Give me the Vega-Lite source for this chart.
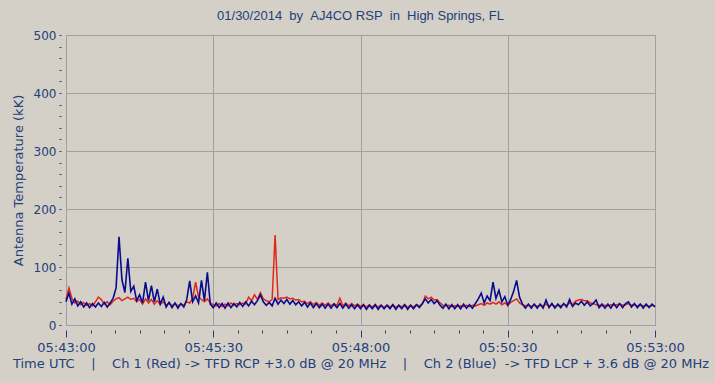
{
  "$schema": "https://vega.github.io/schema/vega-lite/v6.json",
  "width": 589,
  "height": 290,
  "autosize": {"type": "none"},
  "padding": {"left": 66, "top": 35, "right": 60, "bottom": 58},
  "background": "#D4D0C8",
  "title": {
    "text": "01/30/2014\u00a0\u00a0by\u00a0\u00a0AJ4CO RSP\u00a0\u00a0in\u00a0\u00a0High Springs, FL",
    "font": "Liberation Sans",
    "fontSize": 13,
    "fontWeight": "normal",
    "color": "#23407A",
    "anchor": "middle",
    "offset": 6
  },
  "config": {
    "view": {"stroke": "#808080", "fill": "#D4D0C8"},
    "font": "DejaVu Sans"
  },
  "data": {
    "values": [
      {"t":0,"b":40,"r":44},{"t":3,"b":55,"r":64},{"t":6,"b":36,"r":46},{"t":9,"b":45,"r":38},{"t":12,"b":33,"r":41},
      {"t":15,"b":40,"r":35},{"t":18,"b":31,"r":39},{"t":21,"b":38,"r":34},{"t":24,"b":30,"r":37},{"t":27,"b":37,"r":33},
      {"t":30,"b":31,"r":40},{"t":33,"b":38,"r":48},{"t":36,"b":32,"r":44},{"t":39,"b":39,"r":36},{"t":42,"b":31,"r":40},
      {"t":45,"b":38,"r":35},{"t":48,"b":46,"r":41},{"t":51,"b":64,"r":45},{"t":54,"b":152,"r":47},{"t":57,"b":78,"r":42},
      {"t":60,"b":56,"r":45},{"t":63,"b":115,"r":48},{"t":66,"b":58,"r":44},{"t":69,"b":67,"r":46},{"t":72,"b":42,"r":40},
      {"t":75,"b":52,"r":44},{"t":78,"b":38,"r":36},{"t":81,"b":74,"r":45},{"t":84,"b":42,"r":38},{"t":87,"b":68,"r":44},
      {"t":90,"b":40,"r":36},{"t":93,"b":62,"r":42},{"t":96,"b":36,"r":35},{"t":99,"b":48,"r":40},{"t":102,"b":31,"r":34},
      {"t":105,"b":39,"r":38},{"t":108,"b":30,"r":33},{"t":111,"b":38,"r":37},{"t":114,"b":29,"r":33},{"t":117,"b":37,"r":36},
      {"t":120,"b":31,"r":34},{"t":123,"b":44,"r":40},{"t":126,"b":76,"r":38},{"t":129,"b":40,"r":46},{"t":132,"b":50,"r":74},
      {"t":135,"b":38,"r":48},{"t":138,"b":77,"r":44},{"t":141,"b":42,"r":40},{"t":144,"b":91,"r":45},{"t":147,"b":36,"r":38},
      {"t":150,"b":30,"r":35},{"t":153,"b":38,"r":33},{"t":156,"b":30,"r":37},{"t":159,"b":37,"r":32},{"t":162,"b":29,"r":36},
      {"t":165,"b":38,"r":33},{"t":168,"b":30,"r":38},{"t":171,"b":37,"r":34},{"t":174,"b":31,"r":37},{"t":177,"b":39,"r":35},
      {"t":180,"b":32,"r":38},{"t":183,"b":40,"r":36},{"t":186,"b":33,"r":48},{"t":189,"b":41,"r":42},{"t":192,"b":35,"r":52},
      {"t":195,"b":42,"r":44},{"t":198,"b":52,"r":56},{"t":201,"b":40,"r":45},{"t":204,"b":34,"r":42},{"t":207,"b":39,"r":40},
      {"t":210,"b":33,"r":44},{"t":213,"b":46,"r":155},{"t":216,"b":36,"r":44},{"t":219,"b":43,"r":47},{"t":222,"b":37,"r":46},
      {"t":225,"b":44,"r":48},{"t":228,"b":36,"r":45},{"t":231,"b":42,"r":46},{"t":234,"b":35,"r":43},{"t":237,"b":40,"r":44},
      {"t":240,"b":33,"r":40},{"t":243,"b":39,"r":41},{"t":246,"b":31,"r":37},{"t":249,"b":38,"r":40},{"t":252,"b":30,"r":35},
      {"t":255,"b":37,"r":39},{"t":258,"b":30,"r":34},{"t":261,"b":36,"r":38},{"t":264,"b":29,"r":34},{"t":267,"b":36,"r":38},
      {"t":270,"b":29,"r":33},{"t":273,"b":36,"r":37},{"t":276,"b":30,"r":34},{"t":279,"b":37,"r":46},{"t":282,"b":29,"r":33},
      {"t":285,"b":36,"r":38},{"t":288,"b":29,"r":33},{"t":291,"b":35,"r":37},{"t":294,"b":28,"r":33},{"t":297,"b":35,"r":36},
      {"t":300,"b":28,"r":32},{"t":303,"b":35,"r":35},{"t":306,"b":27,"r":31},{"t":309,"b":34,"r":35},{"t":312,"b":28,"r":31},
      {"t":315,"b":35,"r":35},{"t":318,"b":27,"r":31},{"t":321,"b":34,"r":34},{"t":324,"b":28,"r":30},{"t":327,"b":34,"r":34},
      {"t":330,"b":28,"r":31},{"t":333,"b":35,"r":35},{"t":336,"b":27,"r":30},{"t":339,"b":34,"r":34},{"t":342,"b":28,"r":31},
      {"t":345,"b":35,"r":35},{"t":348,"b":27,"r":30},{"t":351,"b":34,"r":34},{"t":354,"b":28,"r":31},{"t":357,"b":35,"r":35},
      {"t":360,"b":30,"r":33},{"t":363,"b":37,"r":36},{"t":366,"b":45,"r":50},{"t":369,"b":38,"r":45},{"t":372,"b":44,"r":48},
      {"t":375,"b":37,"r":43},{"t":378,"b":42,"r":44},{"t":381,"b":34,"r":38},{"t":384,"b":29,"r":34},{"t":387,"b":36,"r":33},
      {"t":390,"b":28,"r":34},{"t":393,"b":35,"r":32},{"t":396,"b":28,"r":33},{"t":399,"b":35,"r":32},{"t":402,"b":28,"r":33},
      {"t":405,"b":36,"r":32},{"t":408,"b":29,"r":34},{"t":411,"b":35,"r":32},{"t":414,"b":29,"r":34},{"t":417,"b":37,"r":33},
      {"t":420,"b":45,"r":35},{"t":423,"b":55,"r":37},{"t":426,"b":38,"r":34},{"t":429,"b":50,"r":38},{"t":432,"b":42,"r":36},
      {"t":435,"b":74,"r":39},{"t":438,"b":46,"r":36},{"t":441,"b":60,"r":40},{"t":444,"b":40,"r":35},{"t":447,"b":49,"r":38},
      {"t":450,"b":34,"r":34},{"t":453,"b":44,"r":39},{"t":456,"b":58,"r":42},{"t":459,"b":77,"r":45},{"t":462,"b":48,"r":38},
      {"t":465,"b":36,"r":35},{"t":468,"b":29,"r":33},{"t":471,"b":36,"r":34},{"t":474,"b":29,"r":32},{"t":477,"b":36,"r":35},
      {"t":480,"b":29,"r":32},{"t":483,"b":36,"r":34},{"t":486,"b":29,"r":33},{"t":489,"b":43,"r":36},{"t":492,"b":30,"r":33},
      {"t":495,"b":37,"r":35},{"t":498,"b":29,"r":32},{"t":501,"b":36,"r":34},{"t":504,"b":30,"r":33},{"t":507,"b":37,"r":36},
      {"t":510,"b":31,"r":34},{"t":513,"b":44,"r":38},{"t":516,"b":32,"r":35},{"t":519,"b":38,"r":41},{"t":522,"b":35,"r":43},
      {"t":525,"b":41,"r":44},{"t":528,"b":34,"r":42},{"t":531,"b":40,"r":42},{"t":534,"b":33,"r":38},{"t":537,"b":37,"r":37},
      {"t":540,"b":43,"r":35},{"t":543,"b":30,"r":34},{"t":546,"b":36,"r":33},{"t":549,"b":29,"r":34},{"t":552,"b":36,"r":33},
      {"t":555,"b":29,"r":35},{"t":558,"b":37,"r":34},{"t":561,"b":30,"r":35},{"t":564,"b":37,"r":36},{"t":567,"b":30,"r":34},
      {"t":570,"b":37,"r":35},{"t":573,"b":40,"r":37},{"t":576,"b":31,"r":34},{"t":579,"b":37,"r":35},{"t":582,"b":30,"r":33},
      {"t":585,"b":36,"r":35},{"t":588,"b":29,"r":33},{"t":591,"b":36,"r":34},{"t":594,"b":30,"r":32},{"t":597,"b":36,"r":34},
      {"t":600,"b":31,"r":33}
    ]
  },
  "layer": [
    {
      "mark": {"type": "line", "color": "#E02818", "strokeWidth": 1.5},
      "encoding": {
        "x": {
          "field": "t", "type": "quantitative",
          "scale": {"domain": [0, 600], "nice": false, "zero": false},
          "axis": {
            "orient": "bottom",
            "values": [0, 150, 300, 450, 600],
            "labelExpr": "'05:' + (43 + floor(datum.value / 60)) + ':' + (datum.value % 60 < 10 ? '0' : '') + (datum.value % 60)",
            "offset": 5, "domain": false,
            "tickSize": 7, "tickColor": "#23407A", "tickWidth": 1,
            "grid": true, "gridColor": "#A0A0A0", "gridWidth": 1,
            "labelFont": "DejaVu Sans", "labelFontSize": 13, "labelColor": "#23407A", "labelPadding": 4,
            "labelFlush": false,
            "title": "Time UTC\u00a0\u00a0\u00a0\u00a0|\u00a0\u00a0\u00a0\u00a0Ch 1 (Red) -> TFD RCP +3.0 dB @ 20 MHz\u00a0\u00a0\u00a0\u00a0|\u00a0\u00a0\u00a0\u00a0Ch 2 (Blue)\u00a0\u00a0-> TFD LCP + 3.6 dB @ 20 MHz",
            "titleFont": "DejaVu Sans", "titleFontSize": 13, "titleFontWeight": "normal", "titleColor": "#23407A", "titlePadding": 3
          }
        },
        "y": {
          "field": "r", "type": "quantitative",
          "scale": {"domain": [0, 500], "nice": false},
          "axis": {
            "orient": "left",
            "values": [0, 100, 200, 300, 400, 500],
            "offset": 5, "domain": false,
            "tickSize": 2, "tickColor": "#23407A",
            "grid": true, "gridColor": "#A0A0A0",
            "labelFont": "DejaVu Sans", "labelFontSize": 12, "labelColor": "#23407A", "labelPadding": 3,
            "labelFlush": false,
            "title": "Antenna Temperature (kK)",
            "titleFont": "DejaVu Sans", "titleFontSize": 13, "titleFontWeight": "normal", "titleColor": "#23407A", "titlePadding": 8
          }
        }
      }
    },
    {
      "mark": {"type": "line", "color": "#0A0A8C", "strokeWidth": 1.6},
      "encoding": {
        "x": {
          "field": "t", "type": "quantitative",
          "scale": {"domain": [0, 600], "nice": false, "zero": false},
          "axis": {
            "orient": "bottom",
            "values": [25, 50, 75, 100, 125, 175, 200, 225, 250, 275, 325, 350, 375, 400, 425, 475, 500, 525, 550, 575],
            "offset": 5, "domain": false, "labels": false, "grid": false,
            "tickSize": 3, "tickColor": "#23407A", "title": null
          }
        },
        "y": {
          "field": "b", "type": "quantitative",
          "scale": {"domain": [0, 500], "nice": false},
          "axis": {
            "orient": "left",
            "values": [20, 40, 60, 80, 120, 140, 160, 180, 220, 240, 260, 280, 320, 340, 360, 380, 420, 440, 460, 480],
            "offset": 5, "domain": false, "labels": false, "grid": false,
            "tickSize": 2, "tickColor": "#23407A", "title": null
          }
        }
      }
    }
  ],
  "resolve": {"axis": {"x": "independent", "y": "independent"}}
}
